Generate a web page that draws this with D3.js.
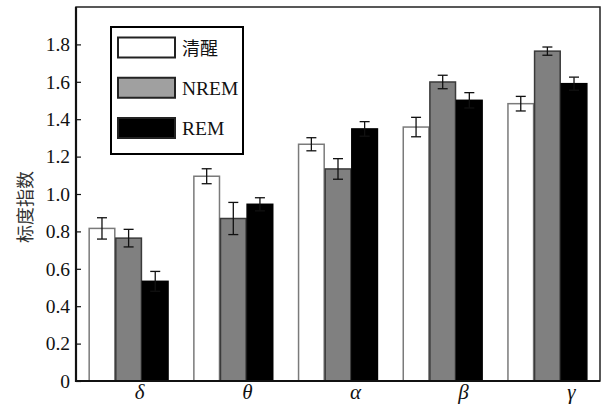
<!DOCTYPE html>
<html><head><meta charset="utf-8">
<script src="https://cdn.jsdelivr.net/npm/d3@7"></script>
<style>body{margin:0;background:#fff}svg{display:block}.serif{font-family:"Liberation Serif","Times New Roman",Times,"DejaVu Serif",serif}</style>
</head><body>
<svg id="c" width="603" height="407"></svg>
<script>
const categories = ["δ", "θ", "α", "β", "γ"];
const seriesNames = ["清醒", "NREM", "REM"];
const awake = [0.816, 1.095, 1.266, 1.358, 1.483];
const nrem  = [0.764, 0.869, 1.134, 1.599, 1.764];
const rem   = [0.533, 0.945, 1.348, 1.501, 1.590];
const awakeErr = [0.057, 0.040, 0.035, 0.052, 0.039];
const nremErr  = [0.047, 0.086, 0.055, 0.036, 0.022];
const remErr   = [0.053, 0.035, 0.039, 0.041, 0.035];
const yTicks = [0, 0.2, 0.4, 0.6, 0.8, 1.0, 1.2, 1.4, 1.6, 1.8];

const values = [awake, nrem, rem];
const errs = [awakeErr, nremErr, remErr];
const fills = ["#ffffff", "#808080", "#000000"];
const strokes = ["#7a7a7a", "#3a3a3a", "#000000"];
const legendFills = ["#ffffff", "#a0a0a0", "#000000"];

const svg = d3.select("#c");
const L = 76, R = 600, T = 7, B = 381;

const x = d3.scaleBand().domain(categories).range([L, R]).paddingInner(0.237).paddingOuter(0.121);
const xs = d3.scaleBand().domain(seriesNames).range([0, x.bandwidth()]);
const xl = d3.scalePoint().domain(categories).range([139, 571]);
const y = d3.scaleLinear().domain([0, 2]).range([B, T]);

// frame
svg.append("rect").attr("x", L).attr("y", T).attr("width", R - L).attr("height", B - T)
  .attr("fill", "none").attr("stroke", "#222").attr("stroke-width", 1.5);

// bars
const rows = [];
categories.forEach((c, i) => seriesNames.forEach((s, j) => rows.push({c, s, j, v: values[j][i], e: errs[j][i]})));
svg.append("g").selectAll("rect").data(rows).join("rect")
  .attr("x", d => x(d.c) + xs(d.s) + 0.5)
  .attr("y", d => y(d.v))
  .attr("width", xs.bandwidth() - 1)
  .attr("height", d => y(0) - y(d.v))
  .attr("fill", d => fills[d.j])
  .attr("stroke", d => strokes[d.j])
  .attr("stroke-width", 1.5);

// error bars
const eg = svg.append("g").attr("stroke", "#111").attr("stroke-width", 1.3);
rows.forEach(d => {
  const cx = x(d.c) + xs(d.s) + xs.bandwidth() / 2;
  eg.append("line").attr("x1", cx).attr("x2", cx).attr("y1", y(d.v + d.e)).attr("y2", y(d.v - d.e));
  [d.v + d.e, d.v - d.e].forEach(v => eg.append("line")
    .attr("x1", cx - 5).attr("x2", cx + 5).attr("y1", y(v)).attr("y2", y(v)));
});

// y axis
const ya = d3.axisLeft(y).tickValues(yTicks).tickSize(-5).tickPadding(6)
  .tickFormat(d => d === 0 ? "0" : d3.format(".1f")(d));
const yg = svg.append("g").attr("transform", `translate(${L},0)`).call(ya)
  .attr("font-family", null).attr("font-size", null);
yg.select(".domain").remove();
yg.selectAll("line").attr("stroke", "#111").attr("stroke-width", 1.2);
yg.selectAll("text").attr("class", "serif").style("font-size", "19.5px").attr("fill", "#111");

// axis lines (thicker left and bottom)
svg.append("line").attr("x1", L).attr("x2", L).attr("y1", T).attr("y2", B + 1).attr("stroke", "#111").attr("stroke-width", 2.2);
svg.append("line").attr("x1", L).attr("x2", R).attr("y1", B).attr("y2", B).attr("stroke", "#111").attr("stroke-width", 2.2);

// x labels
const xa = d3.axisBottom(xl).tickSize(0).tickPadding(3);
const xg = svg.append("g").attr("transform", `translate(0,${B})`).call(xa)
  .attr("font-family", null).attr("font-size", null);
xg.select(".domain").remove();
xg.selectAll("text").attr("class", "serif").style("font-style", "italic").style("font-size", "21px").attr("fill", "#111");

// y title
svg.append("text").attr("transform", "translate(32,207) rotate(-90)")
  .attr("text-anchor", "middle").style("font-family", "'Noto Sans CJK SC',sans-serif")
  .style("font-size", "18px").attr("fill", "#333").text("标度指数");

// legend
const lg = svg.append("g");
lg.append("rect").attr("x", 111).attr("y", 27).attr("width", 132).attr("height", 127)
  .attr("fill", "#fff").attr("stroke", "#000").attr("stroke-width", 2);
const ly = d3.scalePoint().domain(seriesNames).range([47.5, 128]);
seriesNames.forEach((s, j) => {
  lg.append("rect").attr("x", 118).attr("y", ly(s) - 10).attr("width", 57).attr("height", 20)
    .attr("fill", legendFills[j]).attr("stroke", "#222").attr("stroke-width", 2);
  const t = lg.append("text").attr("x", 182).attr("y", ly(s) + 7).attr("fill", "#111").text(s);
  if (j === 0) t.style("font-family", "'Noto Sans CJK SC',sans-serif").style("font-size", "18px");
  else t.attr("class", "serif").style("font-size", "19.5px");
});
</script>
</body></html>
